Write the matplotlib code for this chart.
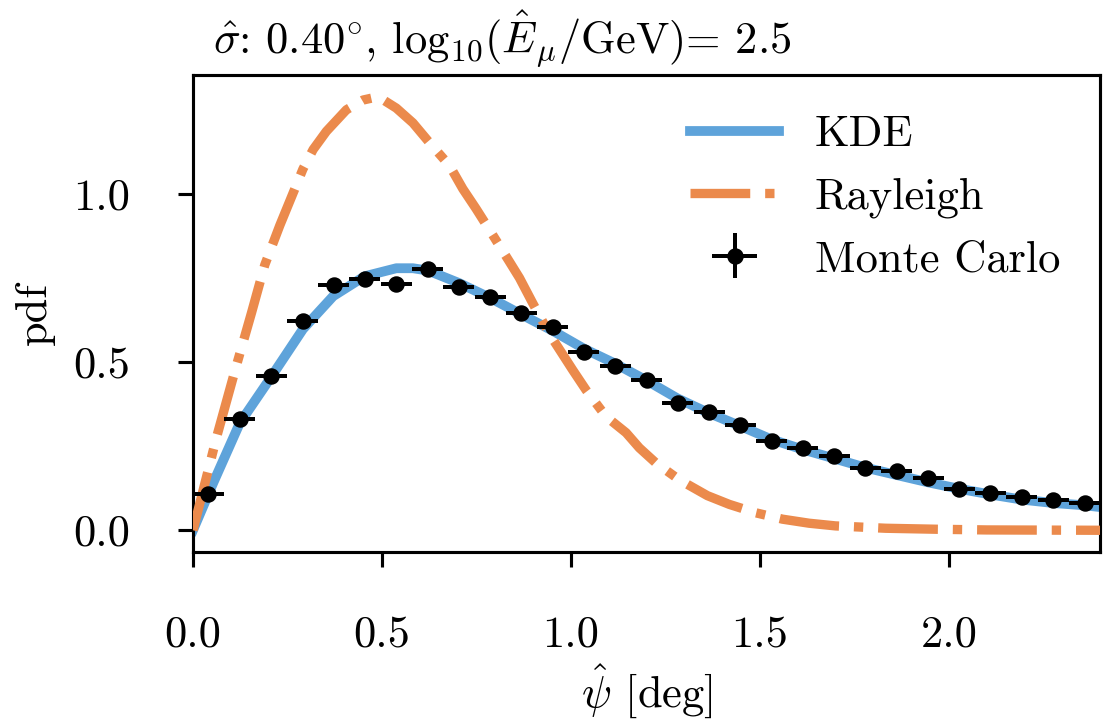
import numpy as np
import matplotlib
matplotlib.use("Agg")
import matplotlib.pyplot as plt

# KDE curve (psi in deg, pdf)
kde_x = [0.0, 0.054, 0.124, 0.204, 0.291, 0.371, 0.454, 0.538, 0.582, 0.622,
         0.704, 0.786, 0.868, 0.952, 1.036, 1.118, 1.199, 1.282, 1.366, 1.450,
         1.531, 1.614, 1.698, 1.780, 1.863, 1.947, 2.029, 2.112, 2.194, 2.277,
         2.361, 2.400]
kde_y = [0.0, 0.142, 0.319, 0.451, 0.598, 0.696, 0.755, 0.779, 0.779, 0.772,
         0.735, 0.691, 0.642, 0.593, 0.539, 0.495, 0.446, 0.392, 0.348, 0.309,
         0.270, 0.240, 0.213, 0.186, 0.164, 0.142, 0.123, 0.106, 0.091, 0.081,
         0.074, 0.069]

# Rayleigh reference curve
ray_x = [0.0, 0.063, 0.115, 0.155, 0.190, 0.230, 0.291, 0.318, 0.353, 0.406,
         0.450, 0.490, 0.538, 0.582, 0.626, 0.679, 0.714, 0.749, 0.793, 0.837,
         0.864, 0.899, 0.943, 1.005, 1.040, 1.093, 1.146, 1.181, 1.225, 1.287,
         1.361, 1.419, 1.489, 1.560, 1.630, 1.700, 1.833, 1.970, 2.100, 2.400]
ray_y = [0.0, 0.279, 0.490, 0.647, 0.789, 0.907, 1.074, 1.132, 1.186, 1.250,
         1.279, 1.289, 1.255, 1.211, 1.152, 1.084, 1.015, 0.956, 0.878, 0.799,
         0.750, 0.675, 0.584, 0.476, 0.417, 0.338, 0.290, 0.245, 0.200, 0.150,
         0.103, 0.077, 0.052, 0.033, 0.021, 0.013, 0.006, 0.003, 0.001, 0.0]

# Monte Carlo histogram (bin centres, densities, errors)
mc_x = [0.041, 0.124, 0.207, 0.290, 0.372, 0.455, 0.538, 0.621, 0.703, 0.786,
        0.869, 0.952, 1.034, 1.117, 1.200, 1.283, 1.366, 1.448, 1.531, 1.614,
        1.697, 1.779, 1.862, 1.945, 2.028, 2.110, 2.193, 2.276, 2.359]
mc_y = [0.108, 0.331, 0.459, 0.621, 0.729, 0.748, 0.733, 0.778, 0.724, 0.693,
        0.647, 0.605, 0.529, 0.488, 0.446, 0.379, 0.351, 0.314, 0.264, 0.245,
        0.221, 0.186, 0.176, 0.154, 0.123, 0.110, 0.098, 0.091, 0.081]
mc_yerr = [0.008, 0.013, 0.015, 0.017, 0.018, 0.018, 0.018, 0.019, 0.018, 0.018,
           0.017, 0.017, 0.016, 0.015, 0.014, 0.013, 0.013, 0.012, 0.011, 0.011,
           0.010, 0.009, 0.009, 0.008, 0.007, 0.007, 0.007, 0.006, 0.006]
mc_xerr = 0.041

x_ticks = [0.0, 0.5, 1.0, 1.5, 2.0]
y_ticks = [0.0, 0.5, 1.0]

plt.rcParams.update({
    "font.family": "serif",
    "font.serif": ["cmr10"],
    "mathtext.fontset": "cm",
    "axes.formatter.use_mathtext": True,
    "axes.unicode_minus": False,
    "font.size": 10,
    "axes.linewidth": 0.7,
    "xtick.major.width": 0.7,
    "ytick.major.width": 0.7,
    "xtick.major.size": 3.4,
    "ytick.major.size": 3.4,
    "xtick.major.pad": 10.8,
    "ytick.major.pad": 10.8,
})

blue = "#5ea3da"
orange = "#eb8a4c"

fig = plt.figure(figsize=(3.45, 2.275), dpi=320)
ax = fig.add_axes([0.1748, 0.2418, 0.8216, 0.6552])

ax.plot(kde_x, kde_y, color=blue, lw=2.2, label="KDE", zorder=2)
ax.plot(ray_x, ray_y, color=orange, lw=2.1, ls="-.", label="Rayleigh", zorder=3)
ax.errorbar(mc_x, mc_y, xerr=mc_xerr, yerr=mc_yerr, fmt="o", color="k",
            ms=2.7, elinewidth=0.9, capsize=0, label="Monte Carlo", zorder=4)

ax.set_xlim(0, 2.4)
ax.set_ylim(-0.0645, 1.3535)
ax.set_xticks(x_ticks)
ax.set_yticks(y_ticks)
ax.xaxis.set_major_formatter(matplotlib.ticker.FormatStrFormatter("%.1f"))
ax.yaxis.set_major_formatter(matplotlib.ticker.FormatStrFormatter("%.1f"))

ax.set_xlabel(r"$\hat{\psi}$ [deg]", labelpad=1.5)
ax.set_ylabel("pdf", labelpad=4)
ax.text(0.022, 1.046,
        r"$\hat{\sigma}$: 0.40$^{\circ}$, $\mathrm{log}_{10}(\hat{E}_\mu/\mathrm{GeV})$= 2.5",
        transform=ax.transAxes, ha="left", va="baseline")

ax.legend(loc="upper right", frameon=False)

fig.savefig("out.png", dpi=320)
